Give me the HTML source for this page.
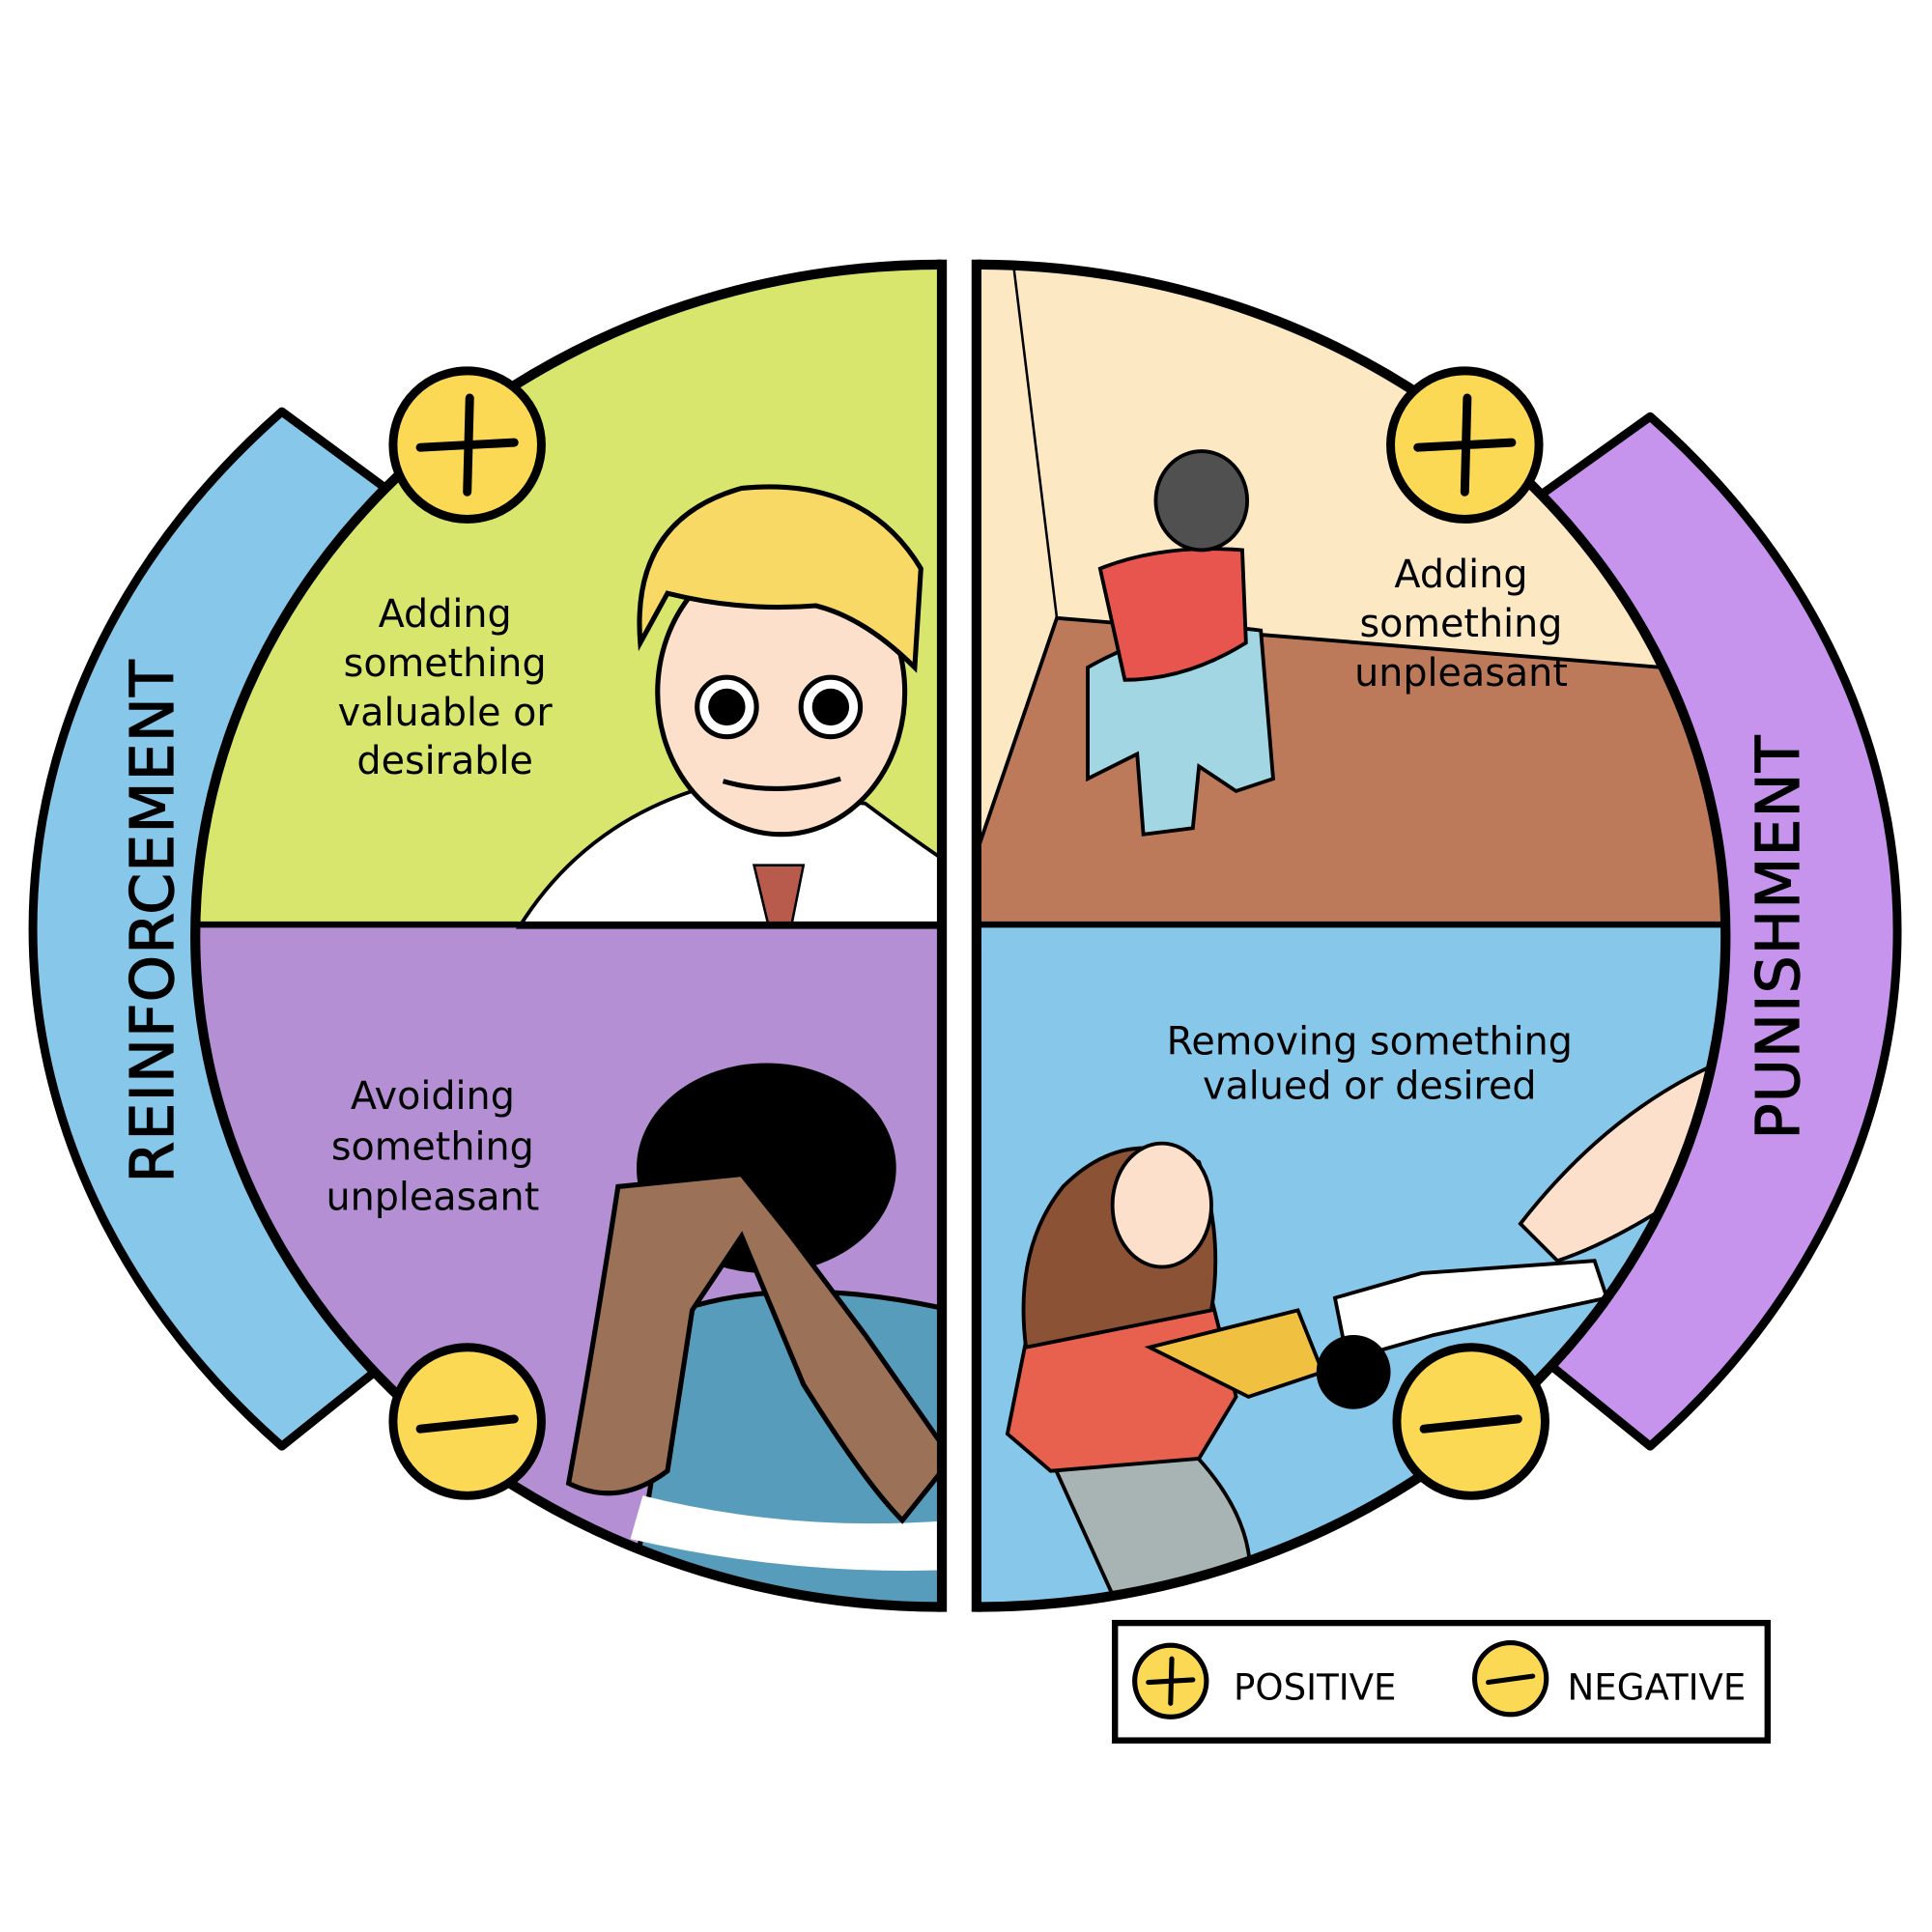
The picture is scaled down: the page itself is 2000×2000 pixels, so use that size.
<!DOCTYPE html>
<html><head><meta charset="utf-8"><style>html,body{margin:0;padding:0;background:#fff}svg{display:block}text{font-family:"DejaVu Sans","Liberation Sans",sans-serif}</style></head>
<body>
<svg width="2000" height="2000" viewBox="0 0 1563 1563" xmlns="http://www.w3.org/2000/svg">
<defs>
<clipPath id="L"><path d="M762,214 A604,543 0 0 0 762,1300 Z"/></clipPath>
<clipPath id="R"><path d="M790,214 A606,543 0 0 1 790,1300 Z"/></clipPath>
</defs>
<path d="M228,333 L312,395 A604,543 0 0 0 303,1110 L228,1170 A742,611 0 0 1 228,333 Z" fill="#87c8ea" stroke="#000" stroke-width="7" stroke-linejoin="round"/>
<path d="M1335,337 L1247,400 A606,543 0 0 1 1255,1105 L1335,1170 A745,611 0 0 0 1335,337 Z" fill="#c694ec" stroke="#000" stroke-width="7" stroke-linejoin="round"/>
<g clip-path="url(#L)">
<rect x="100" y="200" width="670" height="550" fill="#d8e66e"/>
<rect x="100" y="750" width="670" height="600" fill="#b48fd4"/>
<path d="M420,750 Q470,670 560,640 L700,650 Q740,680 770,700 L770,750 Z" fill="#fff" stroke="#000" stroke-width="3"/>
<path d="M610,700 L650,700 L640,750 L622,750 Z" fill="#b85a4c" stroke="#000" stroke-width="2"/>
<ellipse cx="632" cy="560" rx="100" ry="115" fill="#fde0cc" stroke="#000" stroke-width="4"/>
<path d="M518,520 Q510,420 600,395 Q700,385 745,460 L740,540 Q700,500 660,490 Q600,495 540,480 Z" fill="#f8d966" stroke="#000" stroke-width="4"/>
<circle cx="588" cy="572" r="24" fill="#fff" stroke="#000" stroke-width="4"/><circle cx="588" cy="572" r="15" fill="#000"/>
<circle cx="672" cy="572" r="24" fill="#fff" stroke="#000" stroke-width="4"/><circle cx="672" cy="572" r="15" fill="#000"/>
<path d="M585,632 Q630,645 680,630" fill="none" stroke="#000" stroke-width="4"/>
<path d="M520,1240 L550,1060 Q640,1030 770,1060 L770,1320 L500,1320 Z" fill="#579dbb" stroke="#000" stroke-width="4"/>
<path d="M520,1210 Q640,1240 770,1230 L770,1270 Q640,1275 510,1245 Z" fill="#fff"/>
<ellipse cx="620" cy="945" rx="105" ry="85" fill="#000"/>
<path d="M500,960 Q480,1090 460,1200 Q500,1220 540,1190 L560,1060 L600,1000 L650,1120 Q700,1200 730,1230 L770,1180 L700,1080 L640,1000 L600,950 Z" fill="#9b7158" stroke="#000" stroke-width="4"/>
</g>
<path d="M762,214 A604,543 0 0 0 762,1300" fill="none" stroke="#000" stroke-width="8"/>
<line x1="160" y1="748" x2="762" y2="748" stroke="#000" stroke-width="5"/>
<line x1="762" y1="210" x2="762" y2="1304" stroke="#000" stroke-width="8"/>
<g clip-path="url(#R)">
<rect x="780" y="200" width="640" height="550" fill="#fde8c4"/>
<path d="M855,500 L1345,540 L1400,600 L1400,750 L790,750 L790,690 Z" fill="#bd7a5b" stroke="#000" stroke-width="3"/>
<line x1="820" y1="215" x2="855" y2="500" stroke="#000" stroke-width="2"/>
<rect x="780" y="750" width="640" height="600" fill="#87c8ea"/>
<path d="M880,540 Q950,500 1020,510 L1030,630 L1000,640 L970,620 L965,670 L925,675 L920,610 L880,630 Z" fill="#a2d6e2" stroke="#000" stroke-width="3"/>
<path d="M890,460 Q940,440 1005,445 L1008,520 Q960,550 910,550 Z" fill="#e8554e" stroke="#000" stroke-width="3"/>
<ellipse cx="972" cy="405" rx="37" ry="40" fill="#505050" stroke="#000" stroke-width="3"/>
<path d="M850,1180 L900,1290 L1010,1290 Q1020,1230 960,1170 Z" fill="#a8b4b4" stroke="#000" stroke-width="3"/>
<path d="M815,1160 L835,1060 Q900,1030 980,1050 L1000,1130 L970,1180 L850,1190 Z" fill="#e8604e" stroke="#000" stroke-width="3"/>
<path d="M860,960 Q910,910 970,940 Q990,1000 980,1060 L830,1090 Q820,1010 860,960 Z" fill="#8c5236" stroke="#000" stroke-width="3"/>
<ellipse cx="940" cy="975" rx="40" ry="50" fill="#fde0cc" stroke="#000" stroke-width="3"/>
<path d="M1230,990 Q1300,900 1390,860 L1400,940 Q1320,1000 1260,1020 Z" fill="#fde0cc" stroke="#000" stroke-width="3"/>
<path d="M1080,1050 L1150,1030 L1290,1020 L1300,1050 L1160,1080 L1090,1100 Z" fill="#fff" stroke="#000" stroke-width="3"/>
<path d="M930,1090 L1050,1060 L1070,1110 L1010,1130 Z" fill="#f0c040" stroke="#000" stroke-width="3"/>
<ellipse cx="1095" cy="1110" rx="30" ry="30" fill="#000"/>
</g>
<path d="M790,214 A606,543 0 0 1 790,1300" fill="none" stroke="#000" stroke-width="8"/>
<line x1="790" y1="748" x2="1398" y2="748" stroke="#000" stroke-width="5"/>
<line x1="790" y1="210" x2="790" y2="1304" stroke="#000" stroke-width="8"/>
<g stroke="#000" stroke-width="7" stroke-linecap="round">
<circle cx="378" cy="360" r="60" fill="#fbd955"/>
<line x1="340" y1="362" x2="416" y2="358"/><line x1="380" y1="322" x2="378" y2="398"/>
<circle cx="1185" cy="360" r="60" fill="#fbd955"/>
<line x1="1147" y1="362" x2="1223" y2="358"/><line x1="1187" y1="322" x2="1185" y2="398"/>
<circle cx="378" cy="1150" r="60" fill="#fbd955"/>
<line x1="340" y1="1156" x2="416" y2="1148"/>
<circle cx="1190" cy="1150" r="60" fill="#fbd955"/>
<line x1="1152" y1="1156" x2="1228" y2="1148"/>
</g>
<g font-size="31" text-anchor="middle" fill="#000">
<text x="360" y="507">Adding</text><text x="360" y="547">something</text><text x="360" y="587">valuable or</text><text x="360" y="626">desirable</text>
<text x="350" y="897">Avoiding</text><text x="350" y="938">something</text><text x="350" y="979">unpleasant</text>
<text x="1182" y="475">Adding</text><text x="1182" y="515">something</text><text x="1182" y="555">unpleasant</text>
<text x="1108" y="853">Removing something</text><text x="1108" y="889">valued or desired</text>
</g>
<text transform="translate(140,745) rotate(-90)" font-size="48" text-anchor="middle" letter-spacing="1" stroke="#000" stroke-width="1">REINFORCEMENT</text>
<text transform="translate(1455,758) rotate(-90)" font-size="48" text-anchor="middle" letter-spacing="1" stroke="#000" stroke-width="1">PUNISHMENT</text>
<rect x="902" y="1313" width="528" height="95" fill="#fff" stroke="#000" stroke-width="5"/>
<g stroke="#000" stroke-width="4" stroke-linecap="round">
<circle cx="947" cy="1360" r="29" fill="#fbd955"/>
<line x1="929" y1="1361" x2="965" y2="1359"/><line x1="948" y1="1342" x2="947" y2="1378"/>
<circle cx="1222" cy="1358" r="29" fill="#fbd955"/>
<line x1="1204" y1="1361" x2="1240" y2="1356"/>
</g>
<text x="998" y="1375" font-size="29">POSITIVE</text>
<text x="1268" y="1375" font-size="29">NEGATIVE</text>
</svg>
</body></html>
